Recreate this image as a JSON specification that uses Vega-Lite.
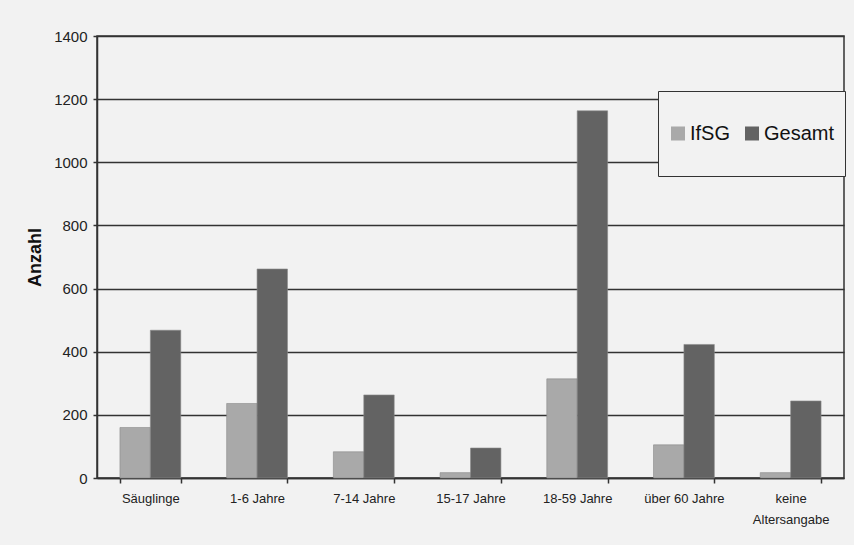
{
  "$schema": "https://vega.github.io/schema/vega-lite/v6.json",
  "width": 747,
  "height": 442,
  "autosize": {"type": "none"},
  "padding": {"left": 97, "top": 36, "right": 10, "bottom": 67},
  "background": "#f2f2f2",
  "config": {
    "font": "Liberation Sans",
    "view": {"stroke": "#333333", "strokeWidth": 1.5, "fill": "#f2f2f2"}
  },
  "data": {
    "values": [
      {"gruppe": "Säuglinge", "reihe": "IfSG", "anzahl": 160},
      {"gruppe": "Säuglinge", "reihe": "Gesamt", "anzahl": 468},
      {"gruppe": "1-6 Jahre", "reihe": "IfSG", "anzahl": 236},
      {"gruppe": "1-6 Jahre", "reihe": "Gesamt", "anzahl": 662},
      {"gruppe": "7-14 Jahre", "reihe": "IfSG", "anzahl": 83},
      {"gruppe": "7-14 Jahre", "reihe": "Gesamt", "anzahl": 263},
      {"gruppe": "15-17 Jahre", "reihe": "IfSG", "anzahl": 17},
      {"gruppe": "15-17 Jahre", "reihe": "Gesamt", "anzahl": 95},
      {"gruppe": "18-59 Jahre", "reihe": "IfSG", "anzahl": 314},
      {"gruppe": "18-59 Jahre", "reihe": "Gesamt", "anzahl": 1163},
      {"gruppe": "über 60 Jahre", "reihe": "IfSG", "anzahl": 105},
      {"gruppe": "über 60 Jahre", "reihe": "Gesamt", "anzahl": 423},
      {"gruppe": "keine Altersangabe", "reihe": "IfSG", "anzahl": 17},
      {"gruppe": "keine Altersangabe", "reihe": "Gesamt", "anzahl": 244}
    ]
  },
  "mark": {"type": "bar", "stroke": "#8a8a8a", "strokeWidth": 0.6},
  "encoding": {
    "x": {
      "field": "gruppe",
      "type": "nominal",
      "sort": null,
      "scale": {"paddingInner": 0.43, "paddingOuter": 0.215},
      "axis": {
        "title": null,
        "labelAngle": 0,
        "labelFontSize": 13,
        "labelColor": "#222222",
        "labelPadding": 9,
        "labelLineHeight": 21,
        "labelExpr": "datum.label == 'keine Altersangabe' ? ['keine', 'Altersangabe'] : datum.label",
        "tickBand": "extent",
        "tickSize": 5,
        "tickColor": "#333333",
        "tickWidth": 1.5,
        "domainColor": "#333333",
        "domainWidth": 1.5,
        "grid": false
      }
    },
    "xOffset": {"field": "reihe", "type": "nominal", "sort": ["IfSG", "Gesamt"]},
    "y": {
      "field": "anzahl",
      "type": "quantitative",
      "scale": {"domain": [0, 1400]},
      "axis": {
        "title": "Anzahl",
        "titleFontSize": 18,
        "titleFontWeight": "bold",
        "titleColor": "#111111",
        "titlePadding": 9,
        "format": "d",
        "values": [0, 200, 400, 600, 800, 1000, 1200, 1400],
        "labelFontSize": 15,
        "labelColor": "#222222",
        "labelPadding": 6,
        "tickSize": 4,
        "tickColor": "#333333",
        "tickWidth": 1.5,
        "domainColor": "#333333",
        "domainWidth": 1.5,
        "grid": true,
        "gridColor": "#333333",
        "gridWidth": 1.3
      }
    },
    "color": {
      "field": "reihe",
      "type": "nominal",
      "sort": ["IfSG", "Gesamt"],
      "scale": {"domain": ["IfSG", "Gesamt"], "range": ["#a9a9a9", "#636363"]},
      "legend": {
        "title": null,
        "orient": "none",
        "legendX": 561,
        "legendY": 55,
        "direction": "horizontal",
        "padding": 10,
        "clipHeight": 65,
        "fillColor": "#f2f2f2",
        "strokeColor": "#333333",
        "symbolType": "square",
        "symbolSize": 196,
        "symbolStrokeWidth": 0,
        "labelFontSize": 20,
        "labelColor": "#111111",
        "labelOffset": 2,
        "columnPadding": 11
      }
    }
  }
}
